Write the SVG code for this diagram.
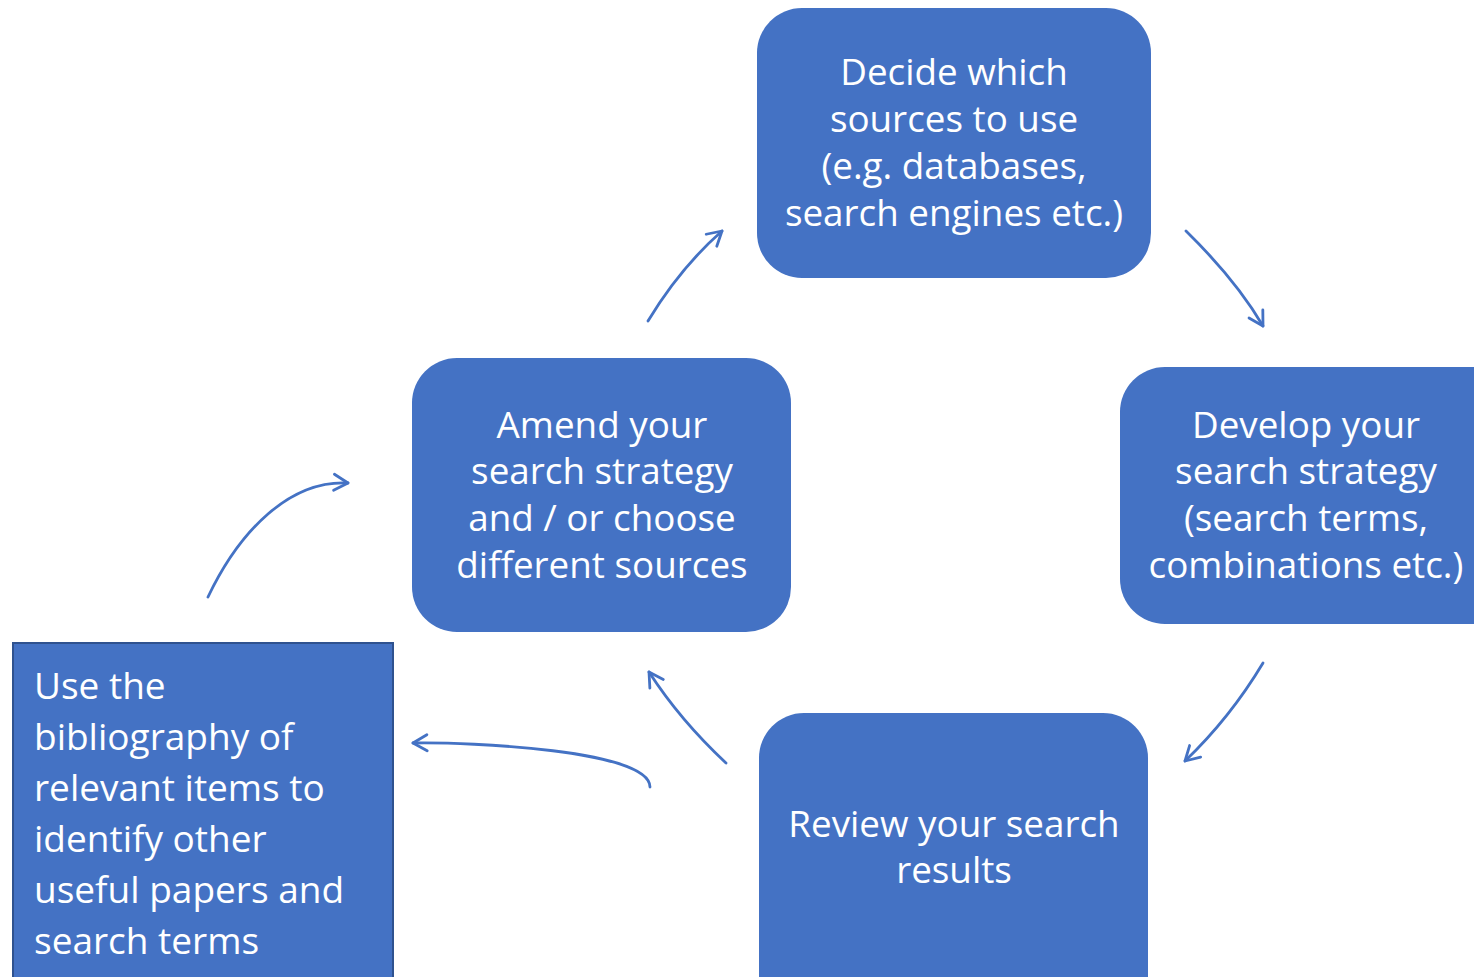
<svg xmlns="http://www.w3.org/2000/svg" width="1474" height="977" viewBox="0 0 1474 977">
<defs>
<style>
.box{fill:#4472C4;}
.t{font-family:"Open Sans","Noto Sans",sans-serif;fill:#ffffff;font-size:36.8px;text-anchor:middle;}
.tl{font-family:"Open Sans","Noto Sans",sans-serif;fill:#ffffff;font-size:37px;}
.c{fill:none;stroke:#4472C4;stroke-width:2.8;stroke-linecap:round;stroke-linejoin:round;}
</style>
<marker id="ah" viewBox="0 0 20 20" refX="18" refY="10" markerWidth="20" markerHeight="20" markerUnits="userSpaceOnUse" orient="auto">
<path d="M4,2 L18,10 L4,18" fill="none" stroke="#4472C4" stroke-width="2.8" stroke-linecap="round" stroke-linejoin="round"/>
</marker>
</defs>
<rect width="1474" height="977" fill="#ffffff"/>
<g id="node-decide">
<rect class="box" x="757" y="8" width="394" height="270" rx="45"/>
<text class="t" x="954" y="85">Decide which</text>
<text class="t" x="954" y="132">sources to use</text>
<text class="t" x="954" y="179">(e.g. databases,</text>
<text class="t" x="954" y="226">search engines etc.)</text>
</g>
<g id="node-develop">
<rect class="box" x="1120" y="367" width="400" height="257" rx="45"/>
<text class="t" x="1306" y="438">Develop your</text>
<text class="t" x="1306" y="484">search strategy</text>
<text class="t" x="1306" y="531">(search terms,</text>
<text class="t" x="1306" y="578">combinations etc.)</text>
</g>
<g id="node-review">
<rect class="box" x="759" y="713" width="389" height="310" rx="45"/>
<text class="t" x="954" y="837">Review your search</text>
<text class="t" x="954" y="883">results</text>
</g>
<g id="node-amend">
<rect class="box" x="412" y="358" width="379" height="274" rx="45"/>
<text class="t" x="602" y="438">Amend your</text>
<text class="t" x="602" y="484">search strategy</text>
<text class="t" x="602" y="531">and / or choose</text>
<text class="t" x="602" y="578">different sources</text>
</g>
<g id="node-bibliography">
<rect class="box" x="13" y="643" width="380" height="360" stroke="#2F528F" stroke-width="2"/>
<text class="tl" x="34" y="699">Use the</text>
<text class="tl" x="34" y="750">bibliography of</text>
<text class="tl" x="34" y="801">relevant items to</text>
<text class="tl" x="34" y="852">identify other</text>
<text class="tl" x="34" y="903">useful papers and</text>
<text class="tl" x="34" y="954">search terms</text>
</g>
<g id="connectors">
<path class="c" d="M648,321 Q680,268 722,231" marker-end="url(#ah)"/>
<path class="c" d="M1186,231 Q1236,280 1263,326" marker-end="url(#ah)"/>
<path class="c" d="M1263,663 Q1230,718 1185,761" marker-end="url(#ah)"/>
<path class="c" d="M726,763 Q680,720 649,672" marker-end="url(#ah)"/>
<path class="c" d="M650,787 C650,750 470,742 413,743" marker-end="url(#ah)"/>
<path class="c" d="M208,597 C240,530 290,480 348,483" marker-end="url(#ah)"/>
</g>
</svg>
